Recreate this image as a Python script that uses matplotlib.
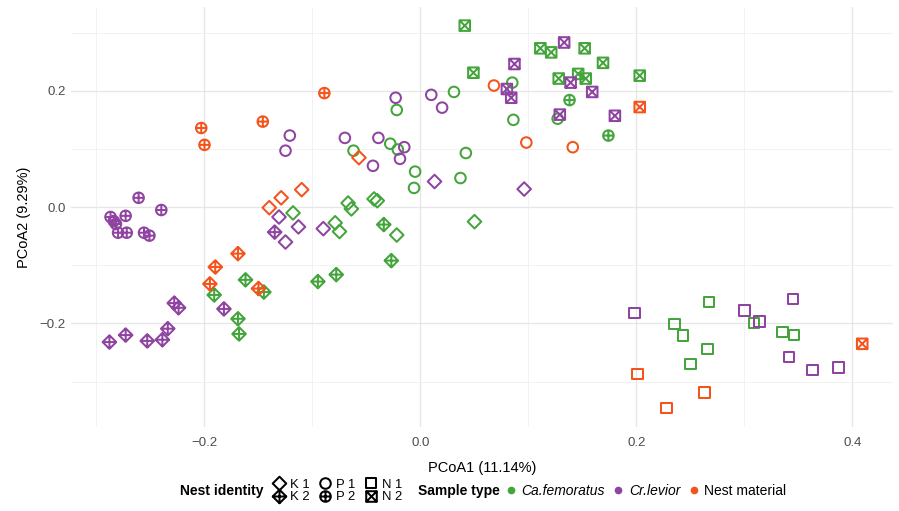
import numpy as np
import matplotlib
matplotlib.use('Agg')
import matplotlib.pyplot as plt
from matplotlib.path import Path
from matplotlib.lines import Line2D

plt.rcParams['font.family'] = ['Liberation Sans', 'DejaVu Sans']

# PCoA coordinates (x, y) per sample type and nest identity
fem_k1 = [(-0.118, -0.010), (-0.067, 0.007), (-0.064, -0.003), (-0.043, 0.014), (-0.040, 0.011),
          (-0.079, -0.027), (-0.075, -0.042), (-0.022, -0.048), (0.050, -0.025)]
fem_k2 = [(-0.034, -0.030), (-0.027, -0.092), (-0.095, -0.128), (-0.078, -0.116), (-0.162, -0.125),
          (-0.191, -0.151), (-0.145, -0.146), (-0.169, -0.192), (-0.168, -0.218)]
fem_p1 = [(-0.022, 0.167), (0.031, 0.198), (-0.062, 0.097), (-0.028, 0.109), (-0.021, 0.099),
          (-0.005, 0.061), (-0.006, 0.033), (0.042, 0.093), (0.037, 0.050), (0.085, 0.214),
          (0.086, 0.150), (0.127, 0.152)]
fem_p2 = [(0.138, 0.184), (0.174, 0.123)]
fem_n1 = [(0.267, -0.163), (0.235, -0.201), (0.243, -0.221), (0.266, -0.244), (0.250, -0.270),
          (0.309, -0.199), (0.335, -0.215), (0.346, -0.220)]
fem_n2 = [(0.041, 0.312), (0.049, 0.231), (0.111, 0.273), (0.121, 0.266), (0.152, 0.273),
          (0.169, 0.248), (0.128, 0.221), (0.146, 0.229), (0.153, 0.221), (0.203, 0.226)]

lev_k1 = [(-0.131, -0.017), (-0.113, -0.034), (-0.125, -0.060), (-0.090, -0.037),
          (0.013, 0.044), (0.096, 0.031)]
lev_k2 = [(-0.135, -0.043), (-0.228, -0.165), (-0.224, -0.173), (-0.182, -0.175), (-0.234, -0.209),
          (-0.239, -0.228), (-0.253, -0.230), (-0.273, -0.220), (-0.288, -0.232)]
lev_p1 = [(-0.023, 0.188), (0.010, 0.193), (0.020, 0.171), (-0.121, 0.123), (-0.125, 0.097),
          (-0.070, 0.119), (-0.039, 0.119), (-0.015, 0.103), (-0.019, 0.083), (-0.044, 0.071)]
lev_p2 = [(-0.261, 0.016), (-0.240, -0.005), (-0.287, -0.017), (-0.273, -0.015), (-0.284, -0.024),
          (-0.282, -0.029), (-0.280, -0.044), (-0.272, -0.044), (-0.256, -0.044), (-0.251, -0.049)]
lev_n1 = [(0.198, -0.182), (0.300, -0.178), (0.314, -0.197), (0.345, -0.158), (0.341, -0.258),
          (0.363, -0.280), (0.387, -0.276)]
lev_n2 = [(0.133, 0.283), (0.087, 0.246), (0.080, 0.203), (0.084, 0.188), (0.139, 0.214),
          (0.159, 0.198), (0.129, 0.159), (0.180, 0.157)]

nest_k1 = [(-0.110, 0.030), (-0.129, 0.016), (-0.140, -0.001), (-0.057, 0.085)]
nest_k2 = [(-0.169, -0.080), (-0.190, -0.103), (-0.195, -0.132), (-0.150, -0.140)]
nest_p1 = [(0.068, 0.209), (0.098, 0.111), (0.141, 0.103)]
nest_p2 = [(-0.203, 0.136), (-0.200, 0.107), (-0.146, 0.147), (-0.089, 0.196)]
nest_n1 = [(0.201, -0.287), (0.263, -0.319), (0.228, -0.345)]
nest_n2 = [(0.203, 0.172), (0.409, -0.235)]

sample_types = ['Ca.femoratus', 'Cr.levior', 'Nest material']
sample_colors = ['#44a53c', '#8e44a0', '#f4541c']
nest_ids = ['K 1', 'K 2', 'P 1', 'P 2', 'N 1', 'N 2']

groups = {
    'Ca.femoratus': [fem_k1, fem_k2, fem_p1, fem_p2, fem_n1, fem_n2],
    'Cr.levior': [lev_k1, lev_k2, lev_p1, lev_p2, lev_n1, lev_n2],
    'Nest material': [nest_k1, nest_k2, nest_p1, nest_p2, nest_n1, nest_n2],
}


# ggplot-like open shapes: diamond, diamond plus, circle, circle plus, square, square cross
M, L, C = Path.MOVETO, Path.LINETO, Path.CLOSEPOLY

diamond = Path([(0, 1), (1, 0), (0, -1), (-1, 0), (0, 1)], [M, L, L, L, C])
diamond_plus = Path([(0, 1), (1, 0), (0, -1), (-1, 0), (0, 1), (0, 1), (0, -1), (-1, 0), (1, 0)],
                    [M, L, L, L, C, M, L, M, L])
circ = Path.unit_circle()
circle_plus = Path(np.vstack([circ.vertices, [(-1, 0), (1, 0), (0, -1), (0, 1)]]),
                   list(circ.codes) + [M, L, M, L])
square = Path([(-1, -1), (1, -1), (1, 1), (-1, 1), (-1, -1)], [M, L, L, L, C])
square_cross = Path([(-1, -1), (1, -1), (1, 1), (-1, 1), (-1, -1), (-1, -1), (1, 1), (-1, 1), (1, -1)],
                    [M, L, L, L, C, M, L, M, L])

shapes = [diamond, diamond_plus, circ, circle_plus, square, square_cross]
shape_sizes = [9.8, 9.8, 7.6, 7.6, 7.6, 7.6]   # points
lw = 1.45

fig = plt.figure(figsize=(8.99, 5.11), dpi=100)
ax = fig.add_axes([71 / 899, 84 / 511, 822 / 899, 420 / 511])

for stype, color in zip(sample_types, sample_colors):
    for pts, shp, ms in zip(groups[stype], shapes, shape_sizes):
        arr = np.array(pts)
        ax.scatter(arr[:, 0], arr[:, 1], marker=shp, s=ms ** 2, facecolors='none',
                   edgecolors=color, linewidths=lw, zorder=3)

ax.set_xlim(-0.3236, 0.4375)
ax.set_ylim(-0.378, 0.344)
ax.set_xticks([-0.2, 0.0, 0.2, 0.4])
ax.set_yticks([-0.2, 0.0, 0.2])
ax.set_xticks([-0.3, -0.1, 0.1, 0.3], minor=True)
ax.set_yticks([-0.3, -0.1, 0.1, 0.3], minor=True)
ax.set_xticklabels(['\u22120.2', '0.0', '0.2', '0.4'])
ax.set_yticklabels(['\u22120.2', '0.0', '0.2'])
ax.grid(which='major', color='#e6e6e6', linewidth=0.9)
ax.grid(which='minor', color='#f0f0f0', linewidth=0.6)
ax.set_axisbelow(True)
for sp in ax.spines.values():
    sp.set_visible(False)
ax.tick_params(which='both', length=0, labelsize=9.5, labelcolor='#4d4d4d')
ax.tick_params(axis='x', pad=7)
ax.tick_params(axis='y', pad=4)
ax.set_xlabel('PCoA1 (11.14%)', fontsize=10.5, labelpad=9)
ax.set_ylabel('PCoA2 (9.29%)', fontsize=10.5, labelpad=6)

# legends
leg_y = 1 - 491 / 511
shape_handles = [Line2D([], [], linestyle='none', marker=shp, markersize=ms, markerfacecolor='none',
                        markeredgecolor='black', markeredgewidth=lw)
                 for shp, ms in zip(shapes, shape_sizes)]
fig.text(180 / 899, leg_y, 'Nest identity', fontsize=10, fontweight='bold', va='center')
leg1 = fig.legend(shape_handles, nest_ids, loc='center left', bbox_to_anchor=(272 / 899, leg_y),
                  ncol=3, frameon=False, fontsize=9.4, borderpad=0, borderaxespad=0,
                  handlelength=1.05, handletextpad=0.3, columnspacing=0.7, labelspacing=0.0)

type_handles = [Line2D([], [], linestyle='none', marker='o', markersize=4.5, color=c)
                for c in sample_colors]
fig.text(418 / 899, leg_y, 'Sample type', fontsize=10, fontweight='bold', va='center')
leg2 = fig.legend(type_handles, sample_types, loc='center left', bbox_to_anchor=(505 / 899, leg_y),
                  ncol=3, frameon=False, fontsize=10, borderpad=0, borderaxespad=0,
                  handlelength=0.8, handletextpad=0.35, columnspacing=0.6)
leg2.get_texts()[0].set_fontstyle('italic')
leg2.get_texts()[1].set_fontstyle('italic')

fig.savefig('out.png', dpi=100, facecolor='white')
